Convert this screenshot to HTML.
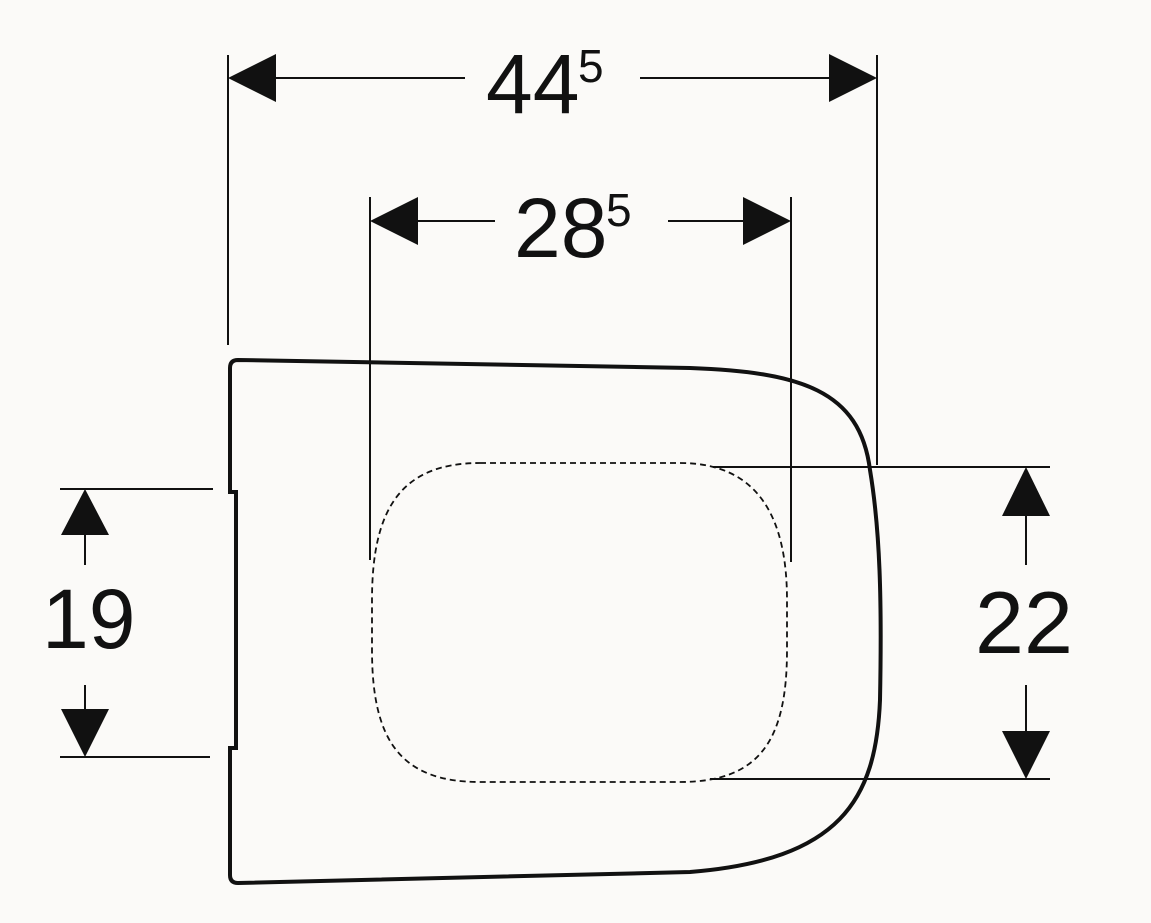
<!DOCTYPE html>
<html><head><meta charset="utf-8"><style>
html,body{margin:0;padding:0;background:#fbfaf8;}
svg{display:block;}
text{font-family:"Liberation Sans",sans-serif;fill:#111;}
</style></head><body>
<svg width="1151" height="923" viewBox="0 0 1151 923" xmlns="http://www.w3.org/2000/svg">
<rect width="1151" height="923" fill="#fbfaf8"/>
<g stroke="#111" stroke-width="2" fill="none">
  <line x1="228" y1="55" x2="228" y2="345"/>
  <line x1="877" y1="55" x2="877" y2="465"/>
  <line x1="250" y1="78" x2="465" y2="78"/>
  <line x1="640" y1="78" x2="860" y2="78"/>
  <line x1="370" y1="197" x2="370" y2="560"/>
  <line x1="791" y1="197" x2="791" y2="562"/>
  <line x1="390" y1="221" x2="495" y2="221"/>
  <line x1="668" y1="221" x2="770" y2="221"/>
  <line x1="60" y1="489" x2="213" y2="489"/>
  <line x1="60" y1="757" x2="210" y2="757"/>
  <line x1="85" y1="510" x2="85" y2="565"/>
  <line x1="85" y1="685" x2="85" y2="740"/>
  <line x1="713" y1="467" x2="1050" y2="467"/>
  <line x1="710" y1="779" x2="1050" y2="779"/>
  <line x1="1026" y1="490" x2="1026" y2="565"/>
  <line x1="1026" y1="685" x2="1026" y2="760"/>
</g>
<g fill="#111">
  <polygon points="228,78 276,54 276,102"/>
  <polygon points="877,78 829,54 829,102"/>
  <polygon points="370,221 418,197 418,245"/>
  <polygon points="791,221 743,197 743,245"/>
  <polygon points="85,489 61,535 109,535"/>
  <polygon points="85,757 61,709 109,709"/>
  <polygon points="1026,467 1002,516 1050,516"/>
  <polygon points="1026,779 1002,731 1050,731"/>
</g>
<text x="486" y="113" font-size="84">44</text>
<text x="578" y="82" font-size="46">5</text>
<text x="514" y="257" font-size="84">28</text>
<text x="606" y="226" font-size="46">5</text>
<text x="42" y="648" font-size="84">19</text>
<text x="975" y="653" font-size="88">22</text>
<path d="M238,360 L690,368 C800,372 860,390 870,470 C880,530 882,600 880,700 C876,800 840,860 690,872 L238,883 Q230,883 230,875 L230,748 L236,748 L236,492 L230,492 L230,368 Q230,360 238,360 Z" fill="none" stroke="#111" stroke-width="4"/>
<path d="M480,463 L680,463 C760,463 787,520 787,600 L787,650 C787,740 760,782 680,782 L480,782 C400,782 372,740 372,650 L372,600 C372,510 400,463 480,463 Z" fill="none" stroke="#111" stroke-width="1.8" stroke-dasharray="6,4"/>
</svg>
</body></html>
